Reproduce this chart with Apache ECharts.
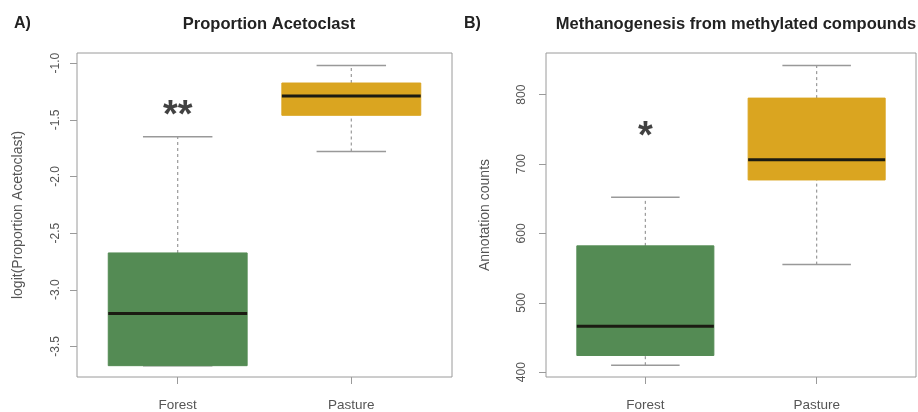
<!DOCTYPE html>
<html>
<head>
<meta charset="utf-8">
<script src="https://cdn.jsdelivr.net/npm/echarts@6/dist/echarts.min.js"></script>
<style>
html,body{margin:0;padding:0;background:#fff;}
#chart{width:918px;height:412px;}
</style>
</head>
<body>
<div id="chart"></div>
<script>
// ---- data ----
const categories = ['Forest', 'Pasture'];
const catPos = [1, 2];
const boxColors = ['#548B54', '#DAA520'];

// five-number summaries: [lower whisker, Q1, median, Q3, upper whisker]
const acetoForest = [-3.67, -3.67, -3.21, -2.675, -1.65];
const acetoPasture = [-1.78, -1.46, -1.29, -1.175, -1.02];
const methForest = [410, 424, 466, 582, 652];
const methPasture = [555, 677, 706, 795, 842];

const acetoTicks = [-3.5, -3.0, -2.5, -2.0, -1.5, -1.0];
const methTicks = [400, 500, 600, 700, 800];

const sigLabels = ['**', '*'];
const sigY = [-1.475, 738];

const titles = ['Proportion Acetoclast', 'Methanogenesis from methylated compounds'];
const panelTags = ['A)', 'B)'];
const yNames = ['logit(Proportion Acetoclast)', 'Annotation counts'];

// ---- chart ----
const FONT = '"Liberation Sans", Arial, sans-serif';
const BOXW = 0.8;

function renderItem(params, api) {
  const x = api.value(0);
  const lo = api.coord([x, api.value(1)]);
  const q1 = api.coord([x, api.value(2)]);
  const md = api.coord([x, api.value(3)]);
  const q3 = api.coord([x, api.value(4)]);
  const hi = api.coord([x, api.value(5)]);
  const w = api.size([BOXW, 0])[0];
  const cx = lo[0];
  const color = boxColors[params.dataIndex];
  const wh = {stroke: '#999', lineWidth: 1.2, lineDash: [3, 3]};
  const cap = {stroke: '#999', lineWidth: 1.5};
  return {
    type: 'group',
    children: [
      {type: 'line', shape: {x1: cx, y1: q3[1], x2: cx, y2: hi[1]}, style: wh},
      {type: 'line', shape: {x1: cx, y1: lo[1], x2: cx, y2: q1[1]}, style: wh},
      {type: 'line', shape: {x1: cx - w / 4, y1: hi[1], x2: cx + w / 4, y2: hi[1]}, style: cap},
      {type: 'line', shape: {x1: cx - w / 4, y1: lo[1], x2: cx + w / 4, y2: lo[1]}, style: cap},
      {type: 'rect', shape: {x: cx - w / 2, y: q3[1], width: w, height: q1[1] - q3[1]},
        style: {fill: color, stroke: color, lineWidth: 1}},
      {type: 'line', shape: {x1: cx - w / 2, y1: md[1], x2: cx + w / 2, y2: md[1]},
        style: {stroke: '#1b1b12', lineWidth: 3}}
    ]
  };
}

function boxData(a, b) {
  return [[catPos[0]].concat(a), [catPos[1]].concat(b)];
}

const grids = [
  {left: 77, top: 53, width: 375, height: 325, show: true, borderColor: '#9a9a9a', borderWidth: 1},
  {left: 546, top: 53, width: 370, height: 325, show: true, borderColor: '#9a9a9a', borderWidth: 1}
];

function xAxis(i) {
  return {
    type: 'value', gridIndex: i, min: 0.42, max: 2.58,
    axisLine: {show: false},
    splitLine: {show: false},
    axisTick: {show: true, length: 7, customValues: catPos, lineStyle: {color: '#9a9a9a'}},
    axisLabel: {
      customValues: catPos, margin: 21, color: '#555', fontSize: 13.5, fontFamily: FONT,
      formatter: v => categories[Math.round(v) - 1]
    }
  };
}
function yAxis(i, min, max, ticks, fmt, margin, gap) {
  return {
    type: 'value', gridIndex: i, min: min, max: max,
    name: yNames[i], nameLocation: 'middle', nameGap: gap, nameRotate: 90,
    nameTextStyle: {color: '#555', fontSize: 14, fontFamily: FONT},
    axisLine: {show: false},
    splitLine: {show: false},
    axisTick: {show: true, length: 7, customValues: ticks, lineStyle: {color: '#9a9a9a'}},
    axisLabel: {
      customValues: ticks, rotate: 90, margin: margin, color: '#555', fontSize: 12, fontFamily: FONT,
      formatter: fmt
    }
  };
}

const option = {
  backgroundColor: '#fff',
  animation: false,
  title: [
    {text: titles[0], left: 264, top: 11, textAlign: 'center',
      textStyle: {fontSize: 16.5, fontWeight: 'bold', color: '#222', fontFamily: FONT}},
    {text: titles[1], left: 731, top: 11, textAlign: 'center',
      textStyle: {fontSize: 16.5, fontWeight: 'bold', color: '#222', fontFamily: FONT}},
    {text: panelTags[0], left: 9, top: 11,
      textStyle: {fontSize: 16, fontWeight: 'bold', color: '#222', fontFamily: FONT}},
    {text: panelTags[1], left: 459, top: 11,
      textStyle: {fontSize: 16, fontWeight: 'bold', color: '#222', fontFamily: FONT}}
  ],
  grid: grids,
  xAxis: [xAxis(0), xAxis(1)],
  yAxis: [
    yAxis(0, -3.77, -0.91, acetoTicks, v => v.toFixed(1), 15, 52),
    yAxis(1, 393, 860, methTicks, v => String(v), 18, 54)
  ],
  series: [
    {type: 'custom', xAxisIndex: 0, yAxisIndex: 0, renderItem: renderItem,
      data: boxData(acetoForest, acetoPasture), silent: true},
    {type: 'custom', xAxisIndex: 1, yAxisIndex: 1, renderItem: renderItem,
      data: boxData(methForest, methPasture), silent: true},
    {type: 'scatter', xAxisIndex: 0, yAxisIndex: 0, symbolSize: 0, silent: true,
      data: [[catPos[0], sigY[0]]],
      label: {show: true, position: 'inside', formatter: sigLabels[0], fontSize: 38, fontWeight: 'bold', color: '#111', fontFamily: FONT}},
    {type: 'scatter', xAxisIndex: 1, yAxisIndex: 1, symbolSize: 0, silent: true,
      data: [[catPos[0], sigY[1]]],
      label: {show: true, position: 'inside', formatter: sigLabels[1], fontSize: 38, fontWeight: 'bold', color: '#111', fontFamily: FONT}}
  ]
};

const chart = echarts.init(document.getElementById('chart'), null, {renderer: 'canvas'});
chart.setOption(option);
</script>
</body>
</html>
